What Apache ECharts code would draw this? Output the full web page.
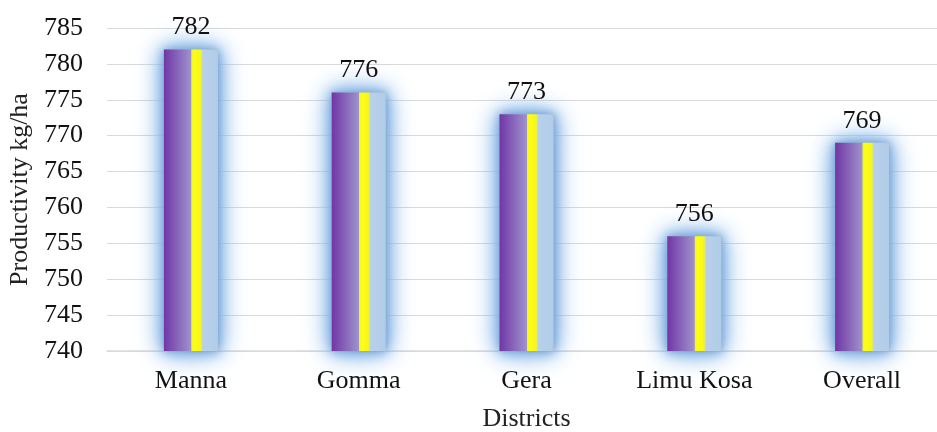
<!DOCTYPE html>
<html><head><meta charset="utf-8">
<script src="https://cdn.jsdelivr.net/npm/echarts@6/dist/echarts.min.js"></script>
<style>html,body{margin:0;padding:0;background:#fff}#c{width:937px;height:432px}</style>
</head><body><div id="c"></div>
<script>
const categories = ["Manna", "Gomma", "Gera", "Limu Kosa", "Overall"];
const productivity = [782, 776, 773, 756, 769];
const yTicks = [740, 745, 750, 755, 760, 765, 770, 775, 780, 785];

const font = "Liberation Serif";
const chart = echarts.init(document.getElementById('c'));
const barGrad = new echarts.graphic.LinearGradient(0, 0, 1, 0, [
  {offset: 0, color: '#7136a6'},
  {offset: 0.5, color: '#9d92cd'},
  {offset: 0.515, color: '#f2f23a'},
  {offset: 0.56, color: '#ffff10'},
  {offset: 0.68, color: '#f5f520'},
  {offset: 0.72, color: '#b8d0ea'},
  {offset: 1, color: '#b2cce8'}
]);
function glow(idx, blur) {
  return {
    type: 'bar', data: productivity, barWidth: 54, xAxisIndex: idx, z: 1, silent: true,
    itemStyle: {color: '#b2cce8', shadowBlur: blur, shadowColor: 'rgba(140,186,234,1)'}
  };
}
chart.setOption({
  animation: false,
  grid: {left: 107, top: 28, width: 839, height: 323, outerBoundsMode: 'none', containLabel: false},
  xAxis: [{
    type: 'category', data: categories,
    name: 'Districts', nameLocation: 'middle', nameGap: 55,
    nameTextStyle: {fontFamily: font, fontSize: 26, color: '#222'},
    axisLine: {lineStyle: {color: '#d9d9d9', width: 1.5}},
    axisTick: {show: false},
    axisLabel: {fontFamily: font, fontSize: 26, color: '#111', margin: 17}
  },
  {type: 'category', data: categories, show: false},
  {type: 'category', data: categories, show: false},
  {type: 'category', data: categories, show: false}],
  yAxis: {
    type: 'value', min: yTicks[0], max: yTicks[yTicks.length - 1], interval: 5,
    name: 'Productivity kg/ha', nameLocation: 'middle', nameGap: 72, nameRotate: 90,
    nameTextStyle: {fontFamily: font, fontSize: 26, color: '#222'},
    axisLine: {show: false}, axisTick: {show: false},
    axisLabel: {fontFamily: font, fontSize: 26, color: '#111', margin: 24},
    splitLine: {lineStyle: {color: '#d9d9d9', width: 1.2}}
  },
  series: [glow(1, 14), glow(2, 22), glow(3, 30), {
    type: 'bar', data: productivity, barWidth: 54, xAxisIndex: 0, z: 3,
    itemStyle: {color: barGrad, shadowBlur: 8, shadowColor: 'rgba(80,120,170,0.5)'},
    label: {show: true, position: 'top', distance: 9, fontFamily: font, fontSize: 26, color: '#111'}
  }]
});
</script></body></html>
